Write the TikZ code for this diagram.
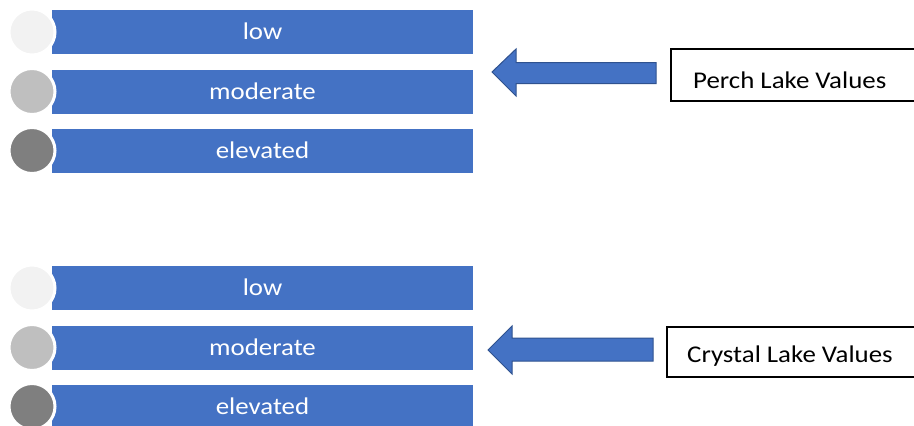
\documentclass[tikz,border=0pt]{standalone}
\usepackage{fontspec}
\setmainfont{Carlito}[FakeStretch=1.12]
\definecolor{barblue}{HTML}{4472C4}
\definecolor{arrowedge}{HTML}{2F528F}
\definecolor{lvlow}{HTML}{F2F2F2}
\definecolor{lvmid}{HTML}{BFBFBF}
\definecolor{lvhigh}{HTML}{7F7F7F}
\tikzset{
  levelbar/.style={fill=barblue, draw=none, minimum width=421pt, minimum height=44pt, inner sep=0pt, outer sep=0pt},
  bartext/.style={text=white, font=\fontsize{24}{26}\selectfont, anchor=base, inner sep=0pt},
  dot/.style={circle, draw=white, line width=3pt, minimum size=46pt, inner sep=0pt},
  blockarrow/.style={fill=barblue, draw=arrowedge, line width=1pt, line join=miter},
  labelbox/.style={draw=black, line width=1.2pt, fill=white},
  labeltext/.style={text=black, font=\fontsize{24}{26}\selectfont, anchor=base west, inner sep=0pt}
}
\begin{document}
\begin{tikzpicture}[x=1pt, y=-1pt]
  \useasboundingbox (0,0) rectangle (914,426);
  \clip (0,0) rectangle (914,426);

  % two legend groups of three levels each
  \foreach \g/\dy in {a/0, b/256} {
    \foreach \i/\lbl/\col/\yy in {1/low/lvlow/32, 2/moderate/lvmid/91.5, 3/elevated/lvhigh/150.5} {
      \node[levelbar] (bar\g\i) at (262.5, \yy+\dy) {};
      \node[bartext] (txt\g\i) at (262.5, \yy+\dy+7.5) {\lbl};
      \node[dot, fill=\col] (dot\g\i) at (32, \yy+\dy) {};
    }
  }

  % label boxes
  \draw[labelbox] (671,49) rectangle (925,101);
  \node[labeltext] (perch) at (693,88.3) {Perch Lake Values};
  \draw[labelbox] (667,327) rectangle (925,377);
  \node[labeltext] (crystal) at (687,362.7) {Crystal Lake Values};

  % block arrows pointing back at the legends
  \draw[blockarrow] (492,72) -- (516,49) -- (516,62.5) -- (656,62.5) -- (656,83.5) -- (516,83.5) -- (516,96) -- cycle;
  \draw[blockarrow] (488,350) -- (512,326) -- (512,338) -- (653,338) -- (653,361) -- (512,361) -- (512,374) -- cycle;
\end{tikzpicture}
\end{document}
